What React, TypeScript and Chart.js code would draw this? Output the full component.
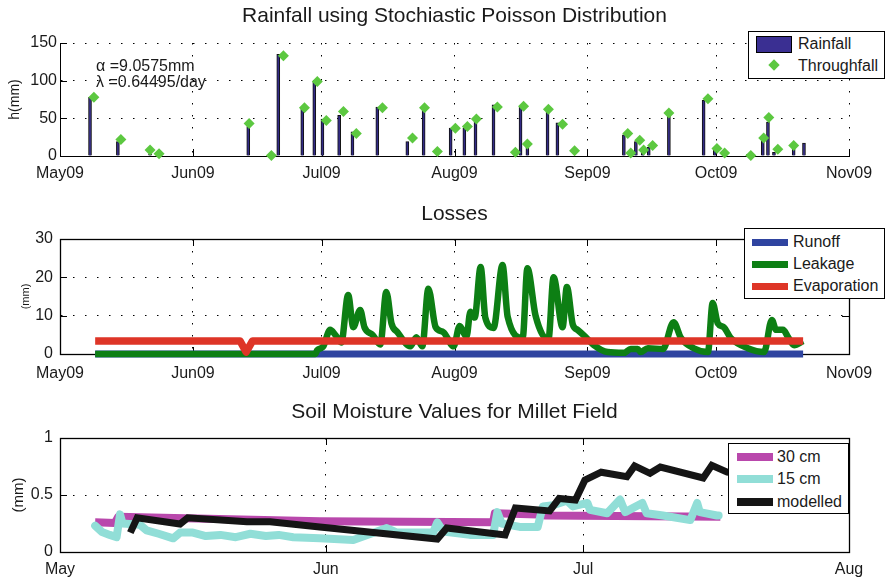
import React, { useEffect, useRef } from 'react';
import { Chart, registerables } from 'chart.js';

Chart.register(...registerables);

const FONT = '"Liberation Sans", Arial, Helvetica, sans-serif';
const INK = '#1a1a1a';

// ---------------- Panel 1: rainfall ----------------
const rainTitle = 'Rainfall using Stochiastic Poisson Distribution';
const seasonTickDays = [0, 31, 61, 92, 123, 153, 184];
const seasonTickLabels = ['May09', 'Jun09', 'Jul09', 'Aug09', 'Sep09', 'Oct09', 'Nov09'];
const rainYTicks = [0, 50, 100, 150];
const rainSeriesNames = ['Rainfall', 'Throughfall'];
const rainDays = [7.0, 13.5, 21.0, 43.9, 50.9, 56.5, 59.3, 61.2, 65.1, 68.2, 74.0, 81.0, 84.8, 91.1, 94.3, 96.9, 101.1, 107.4, 109.0, 113.7, 116.0, 131.5, 134.3, 135.9, 137.3, 142.0, 150.1, 152.7, 160.4, 163.9, 165.1, 166.5, 171.1, 173.5];
const rainValues = [78, 19, 3, 39, 135, 64, 98, 49, 54, 32, 65, 19, 61, 37, 37, 48, 68, 65, 12, 58, 44, 28, 19, 8, 12, 54, 74, 8, 2, 21, 45, 5, 10, 17];
const throughDays = [7.9, 14.2, 21.0, 23.1, 44.1, 49.3, 52.1, 57.0, 60.0, 62.1, 66.1, 69.1, 75.2, 82.2, 85.0, 88.0, 92.2, 95.0, 97.1, 102.0, 106.2, 108.1, 109.0, 113.9, 117.2, 120.0, 132.4, 133.1, 135.2, 136.1, 138.2, 142.0, 151.1, 153.2, 155.0, 161.1, 164.1, 165.3, 167.4, 171.1];
const throughValues = [78, 22, 8, 3, 43, 0.5, 133, 64, 99, 47, 59, 30, 64, 24, 64, 6, 37, 39, 49, 65, 5, 66, 16, 62, 42, 7, 30, 4, 21, 8, 14, 57, 76, 10, 4, 0.5, 24, 51, 9, 14];
const alphaText = '\u03B1 =9.0575mm';
const lambdaText = '\u03BB =0.64495/day';

// ---------------- Panel 2: losses ----------------
const lossTitle = 'Losses';
const lossYTicks = [0, 10, 20, 30];
const lossSeriesNames = ['Runoff', 'Leakage', 'Evaporation'];
const runoffDays = [8.2, 173.3];
const runoffValues = [0, 0];
const leakDays = [8.2, 59.5, 60.0, 61.4, 63.0, 64.2, 65.6, 67.2, 68.4, 70.0, 71.0, 72.9, 74.7, 76.1, 77.3, 78.7, 81.7, 83.1, 84.5, 85.9, 87.6, 89.4, 91.8, 93.2, 94.8, 95.7, 96.7, 98.1, 99.2, 101.1, 103.2, 104.4, 107.9, 109.0, 110.9, 113.9, 115.1, 117.2, 118.2, 119.6, 120.7, 122.6, 124.5, 127.7, 131.5, 133.1, 134.7, 135.4, 137.1, 140.6, 143.1, 144.8, 147.8, 151.1, 152.2, 153.4, 154.8, 156.4, 160.4, 164.2, 166.0, 167.0, 168.6, 169.8, 171.2, 173.3];
const leakValues = [0, 0, 1, 2, 6.3, 5, 3, 15.4, 7, 11.5, 7, 5, 2.5, 16.2, 8, 5.7, 2, 4.4, 2, 17, 7, 5.7, 2, 7.3, 4.5, 11, 9.5, 22.7, 9.4, 6.8, 23.2, 9.7, 4.2, 22.4, 10, 3.7, 20, 7, 17.5, 7.6, 6.3, 4.4, 2.3, 0.5, 0.3, 1.3, 1.3, 0.5, 1.5, 1.3, 8.3, 4.2, 1.5, 0.5, 13.3, 8, 7, 4.2, 1.5, 0.5, 8.9, 6.3, 6.3, 4.4, 2.3, 3.4];
const evapDays = [8.2, 42.0, 43.4, 44.9, 173.3];
const evapValues = [3.4, 3.4, 0.5, 3.4, 3.4];

// ---------------- Panel 3: soil moisture ----------------
const soilTitle = 'Soil Moisture Values for Millet Field';
const soilTickDays = [0, 31, 61, 92];
const soilTickLabels = ['May', 'Jun', 'Jul', 'Aug'];
const soilYTicks = [0, 0.5, 1];
const soilSeriesNames = ['30 cm', '15 cm', 'modelled'];
const cm30Days = [4.1, 6.4, 6.8, 30.3, 50.5, 50.7, 55.7, 56.6, 77.0];
const cm30Values = [0.26, 0.255, 0.31, 0.27, 0.26, 0.34, 0.33, 0.32, 0.31];
const cm15Days = [4.1, 4.9, 5.8, 6.6, 7.0, 7.3, 9.3, 10.1, 11.5, 13.2, 14.0, 15.5, 17.0, 18.7, 20.5, 22.2, 24.0, 25.5, 27.2, 30.3, 34.2, 38.1, 39.3, 43.5, 44.0, 44.7, 47.8, 50.5, 51.0, 51.5, 53.6, 55.7, 56.3, 57.5, 59.1, 59.8, 61.5, 61.8, 63.8, 65.3, 65.9, 67.9, 68.4, 70.3, 73.5, 74.3, 74.6, 76.6, 76.8];
const cm15Values = [0.23, 0.175, 0.15, 0.13, 0.33, 0.25, 0.24, 0.19, 0.16, 0.12, 0.17, 0.17, 0.14, 0.15, 0.13, 0.16, 0.14, 0.15, 0.13, 0.12, 0.105, 0.21, 0.17, 0.17, 0.26, 0.18, 0.15, 0.15, 0.35, 0.25, 0.22, 0.22, 0.40, 0.41, 0.45, 0.40, 0.43, 0.37, 0.34, 0.46, 0.35, 0.43, 0.34, 0.32, 0.28, 0.43, 0.35, 0.32, 0.32];
const modelDays = [8.2, 9.0, 14.0, 14.9, 21.8, 24.5, 30.3, 44.0, 45.1, 51.9, 53.1, 57.1, 58.2, 60.1, 61.2, 63.1, 66.1, 67.0, 68.8, 70.0, 75.0, 76.0, 77.8, 79.9];
const modelValues = [0.17, 0.30, 0.245, 0.30, 0.265, 0.265, 0.22, 0.114, 0.21, 0.15, 0.386, 0.36, 0.47, 0.456, 0.63, 0.70, 0.66, 0.755, 0.69, 0.745, 0.65, 0.76, 0.70, 0.68];

const COLORS = {
  rainFill: '#332b86',
  rainLegend: '#3a2f92',
  through: '#5cc840',
  runoff: '#2f44a0',
  leak: '#0d7f14',
  evap: '#de3527',
  cm30: '#b948ac',
  cm15: '#91ded7',
  model: '#151515',
};

const xy = (xs: number[], ys: number[]) => xs.map((x, i) => ({ x, y: ys[i] }));

const framePlugin = {
  id: 'frame',
  beforeDatasetsDraw(chart: any, _a: any, opts: any) {
    const { ctx, chartArea: a } = chart;
    const xs = chart.scales.x;
    const ys = chart.scales.y;
    const len = opts.tickLength ?? 7;
    ctx.save();
    ctx.setLineDash([]);
    ctx.strokeStyle = '#000';
    ctx.lineWidth = 1;
    ctx.beginPath();
    for (const t of xs.ticks) {
      const px = Math.round(xs.getPixelForValue(t.value)) + 0.5;
      ctx.moveTo(px, a.bottom);
      ctx.lineTo(px, a.bottom - len);
      if (opts.box) {
        ctx.moveTo(px, a.top);
        ctx.lineTo(px, a.top + len);
      }
    }
    for (const t of ys.ticks) {
      const py = Math.round(ys.getPixelForValue(t.value)) + 0.5;
      ctx.moveTo(a.left, py);
      ctx.lineTo(a.left + len, py);
      if (opts.box) {
        ctx.moveTo(a.right, py);
        ctx.lineTo(a.right - len, py);
      }
    }
    ctx.stroke();
    if (opts.box) {
      ctx.lineWidth = 1.3;
      ctx.strokeRect(Math.round(a.left) + 0.5, Math.round(a.top) + 0.5, Math.round(a.right - a.left), Math.round(a.bottom - a.top));
    }
    ctx.restore();
  },
};

function makeX(tickDays: number[], tickLabels: string[], max: number, height: number, pad: number) {
  return {
    type: 'linear',
    min: 0,
    max,
    offset: false,
    afterBuildTicks: (s: any) => {
      s.ticks = tickDays.map((v) => ({ value: v }));
    },
    afterFit: (s: any) => {
      s.height = height;
    },
    ticks: {
      autoSkip: false,
      maxRotation: 0,
      padding: pad,
      color: INK,
      font: { family: FONT, size: 16 },
      callback: (v: number) => {
        const i = tickDays.indexOf(v);
        return i >= 0 ? tickLabels[i] : '';
      },
    },
    grid: { color: '#000', lineWidth: 1, drawTicks: false, offset: false },
    border: { display: true, color: '#000', width: 1, dash: [1.5, 10.5] },
  };
}

function makeY(ticksArr: number[], pad: number, label: string, labelSize: number, labelPad: number) {
  return {
    type: 'linear',
    min: ticksArr[0],
    max: ticksArr[ticksArr.length - 1],
    afterBuildTicks: (s: any) => {
      s.ticks = ticksArr.map((v) => ({ value: v }));
    },
    afterFit: (s: any) => {
      s.width = 60;
    },
    ticks: {
      padding: pad,
      color: INK,
      font: { family: FONT, size: 16 },
      callback: (v: number) => String(v),
    },
    grid: { color: '#000', lineWidth: 1, drawTicks: false },
    border: { display: true, color: '#000', width: 1, dash: [1.5, 10.5] },
    title: {
      display: true,
      text: label,
      color: INK,
      font: { family: FONT, size: labelSize },
      padding: { top: labelPad, bottom: 0 },
    },
  };
}

function makeTitle(text: string, top: number, bottom: number) {
  return {
    display: true,
    text,
    fullSize: false,
    color: INK,
    font: { family: FONT, size: 21, weight: 'normal', lineHeight: 1.2 },
    padding: { top, bottom },
  };
}

function basePlugins(title: any, box: boolean) {
  return {
    legend: { display: false },
    tooltip: { enabled: false },
    title,
    frame: { box, tickLength: 7 },
  };
}

function useChart(ref: React.RefObject<HTMLCanvasElement>, build: () => any) {
  useEffect(() => {
    if (!ref.current) return;
    const chart = new Chart(ref.current, build());
    return () => chart.destroy();
  }, []);
}

function LegendBox({ left, top, width, height, children }: any) {
  return (
    <div
      style={{
        position: 'absolute',
        left,
        top,
        width,
        height,
        boxSizing: 'border-box',
        border: '1.5px solid #000',
        background: '#fff',
        fontFamily: FONT,
        fontSize: 16,
        color: INK,
      }}
    >
      {children}
    </div>
  );
}

function LegendText({ x, cy, text }: any) {
  return (
    <div style={{ position: 'absolute', left: x, top: cy - 10, lineHeight: '20px', whiteSpace: 'nowrap' }}>{text}</div>
  );
}

function LegendPatch({ x, cy, w, h, color, border }: any) {
  return (
    <div
      style={{
        position: 'absolute',
        left: x,
        top: cy - h / 2,
        width: w,
        height: h,
        background: color,
        boxSizing: 'border-box',
        border: border || 'none',
      }}
    />
  );
}

export default function App() {
  const c1 = useRef<HTMLCanvasElement>(null);
  const c2 = useRef<HTMLCanvasElement>(null);
  const c3 = useRef<HTMLCanvasElement>(null);

  useChart(c1, () => ({
    type: 'scatter',
    data: {
      datasets: [
        {
          type: 'bar',
          label: rainSeriesNames[0],
          data: xy(rainDays, rainValues),
          backgroundColor: COLORS.rainFill,
          borderColor: '#111',
          borderWidth: 1,
          barThickness: 3,
          grouped: false,
          order: 2,
        },
        {
          type: 'scatter',
          label: rainSeriesNames[1],
          data: xy(throughDays, throughValues),
          backgroundColor: COLORS.through,
          borderWidth: 0,
          pointStyle: 'rectRot',
          pointRadius: 5.5,
          clip: false,
          order: 1,
        },
      ],
    },
    options: {
      responsive: false,
      animation: false,
      events: [],
      layout: { padding: { left: 0, right: 36, top: 0, bottom: 0 } },
      plugins: basePlugins(makeTitle(rainTitle, 3.4, 14.4), false),
      scales: {
        x: makeX(seasonTickDays, seasonTickLabels, 184, 34, 8),
        y: makeY(rainYTicks, 3, 'h(mm)', 14, 6.6),
      },
    },
    plugins: [framePlugin],
  }));

  useChart(c2, () => ({
    type: 'line',
    data: {
      datasets: [
        {
          label: lossSeriesNames[0],
          data: xy(runoffDays, runoffValues),
          borderColor: COLORS.runoff,
          borderWidth: 7,
          pointRadius: 0,
          clip: false,
          order: 3,
        },
        {
          label: lossSeriesNames[1],
          data: xy(leakDays, leakValues),
          borderColor: COLORS.leak,
          borderWidth: 6.5,
          borderJoinStyle: 'round',
          cubicInterpolationMode: 'monotone',
          pointRadius: 0,
          clip: false,
          order: 2,
        },
        {
          label: lossSeriesNames[2],
          data: xy(evapDays, evapValues),
          borderColor: COLORS.evap,
          borderWidth: 7.5,
          borderJoinStyle: 'round',
          pointRadius: 0,
          clip: false,
          order: 1,
        },
      ],
    },
    options: {
      responsive: false,
      animation: false,
      events: [],
      layout: { padding: { left: 0, right: 36, top: 0, bottom: 0 } },
      plugins: basePlugins(makeTitle(lossTitle, 11.9, 11.9), true),
      scales: {
        x: makeX(seasonTickDays, seasonTickLabels, 184, 31, 10),
        y: makeY(lossYTicks, 7, '(mm)', 11, 19.4),
      },
    },
    plugins: [framePlugin],
  }));

  useChart(c3, () => ({
    type: 'line',
    data: {
      datasets: [
        {
          label: soilSeriesNames[0],
          data: xy(cm30Days, cm30Values),
          borderColor: COLORS.cm30,
          borderWidth: 8,
          borderJoinStyle: 'round',
          pointRadius: 0,
          clip: false,
          order: 3,
        },
        {
          label: soilSeriesNames[1],
          data: xy(cm15Days, cm15Values),
          borderColor: COLORS.cm15,
          borderWidth: 8,
          borderJoinStyle: 'round',
          borderCapStyle: 'round',
          pointRadius: 0,
          clip: false,
          order: 2,
        },
        {
          label: soilSeriesNames[2],
          data: xy(modelDays, modelValues),
          borderColor: COLORS.model,
          borderWidth: 7,
          pointRadius: 0,
          clip: false,
          order: 1,
        },
      ],
    },
    options: {
      responsive: false,
      animation: false,
      events: [],
      layout: { padding: { left: 0, right: 36, top: 0, bottom: 0 } },
      plugins: basePlugins(makeTitle(soilTitle, 14.9, 12.9), true),
      scales: {
        x: makeX(soilTickDays, soilTickLabels, 92, 28, 7.6),
        y: makeY(soilYTicks, 7, '(mm)', 15, 10),
      },
    },
    plugins: [framePlugin],
  }));

  const canvasStyle = (top: number, h: number): React.CSSProperties => ({
    position: 'absolute',
    left: 0,
    top,
    width: 885,
    height: h,
  });

  return (
    <div style={{ position: 'absolute', left: 0, top: 0, width: 885, height: 580, background: '#fff', overflow: 'hidden' }}>
      <canvas ref={c1} width={885} height={190} style={canvasStyle(0, 190)} />
      <canvas ref={c2} width={885} height={195} style={canvasStyle(190, 195)} />
      <canvas ref={c3} width={885} height={195} style={canvasStyle(385, 195)} />

      <div style={{ position: 'absolute', left: 96, top: 56, fontFamily: FONT, fontSize: 16, lineHeight: '20px', color: INK, whiteSpace: 'nowrap' }}>{alphaText}</div>
      <div style={{ position: 'absolute', left: 96, top: 72, fontFamily: FONT, fontSize: 16, lineHeight: '20px', color: INK, whiteSpace: 'nowrap' }}>{lambdaText}</div>

      <LegendBox left={748} top={31} width={137} height={48}>
        <LegendPatch x={7} cy={12} w={36} h={17} color={COLORS.rainLegend} border="1px solid #000" />
        <LegendText x={49} cy={12} text={rainSeriesNames[0]} />
        <div style={{ position: 'absolute', left: 20.5, top: 29, width: 8, height: 8, background: COLORS.through, transform: 'rotate(45deg)' }} />
        <LegendText x={49} cy={34} text={rainSeriesNames[1]} />
      </LegendBox>

      <LegendBox left={744} top={228} width={141} height={71}>
        <LegendPatch x={7} cy={13} w={36} h={7} color={COLORS.runoff} />
        <LegendText x={48} cy={13} text={lossSeriesNames[0]} />
        <LegendPatch x={7} cy={35} w={36} h={7} color={COLORS.leak} />
        <LegendText x={48} cy={35} text={lossSeriesNames[1]} />
        <LegendPatch x={7} cy={57} w={36} h={7} color={COLORS.evap} />
        <LegendText x={48} cy={57} text={lossSeriesNames[2]} />
      </LegendBox>

      <LegendBox left={728} top={443} width={121} height={71}>
        <LegendPatch x={8} cy={13} w={36} h={8} color={COLORS.cm30} />
        <LegendText x={48} cy={13} text={soilSeriesNames[0]} />
        <LegendPatch x={8} cy={35} w={36} h={8} color={COLORS.cm15} />
        <LegendText x={48} cy={35} text={soilSeriesNames[1]} />
        <LegendPatch x={8} cy={58} w={36} h={8} color={COLORS.model} />
        <LegendText x={48} cy={58} text={soilSeriesNames[2]} />
      </LegendBox>
    </div>
  );
}
